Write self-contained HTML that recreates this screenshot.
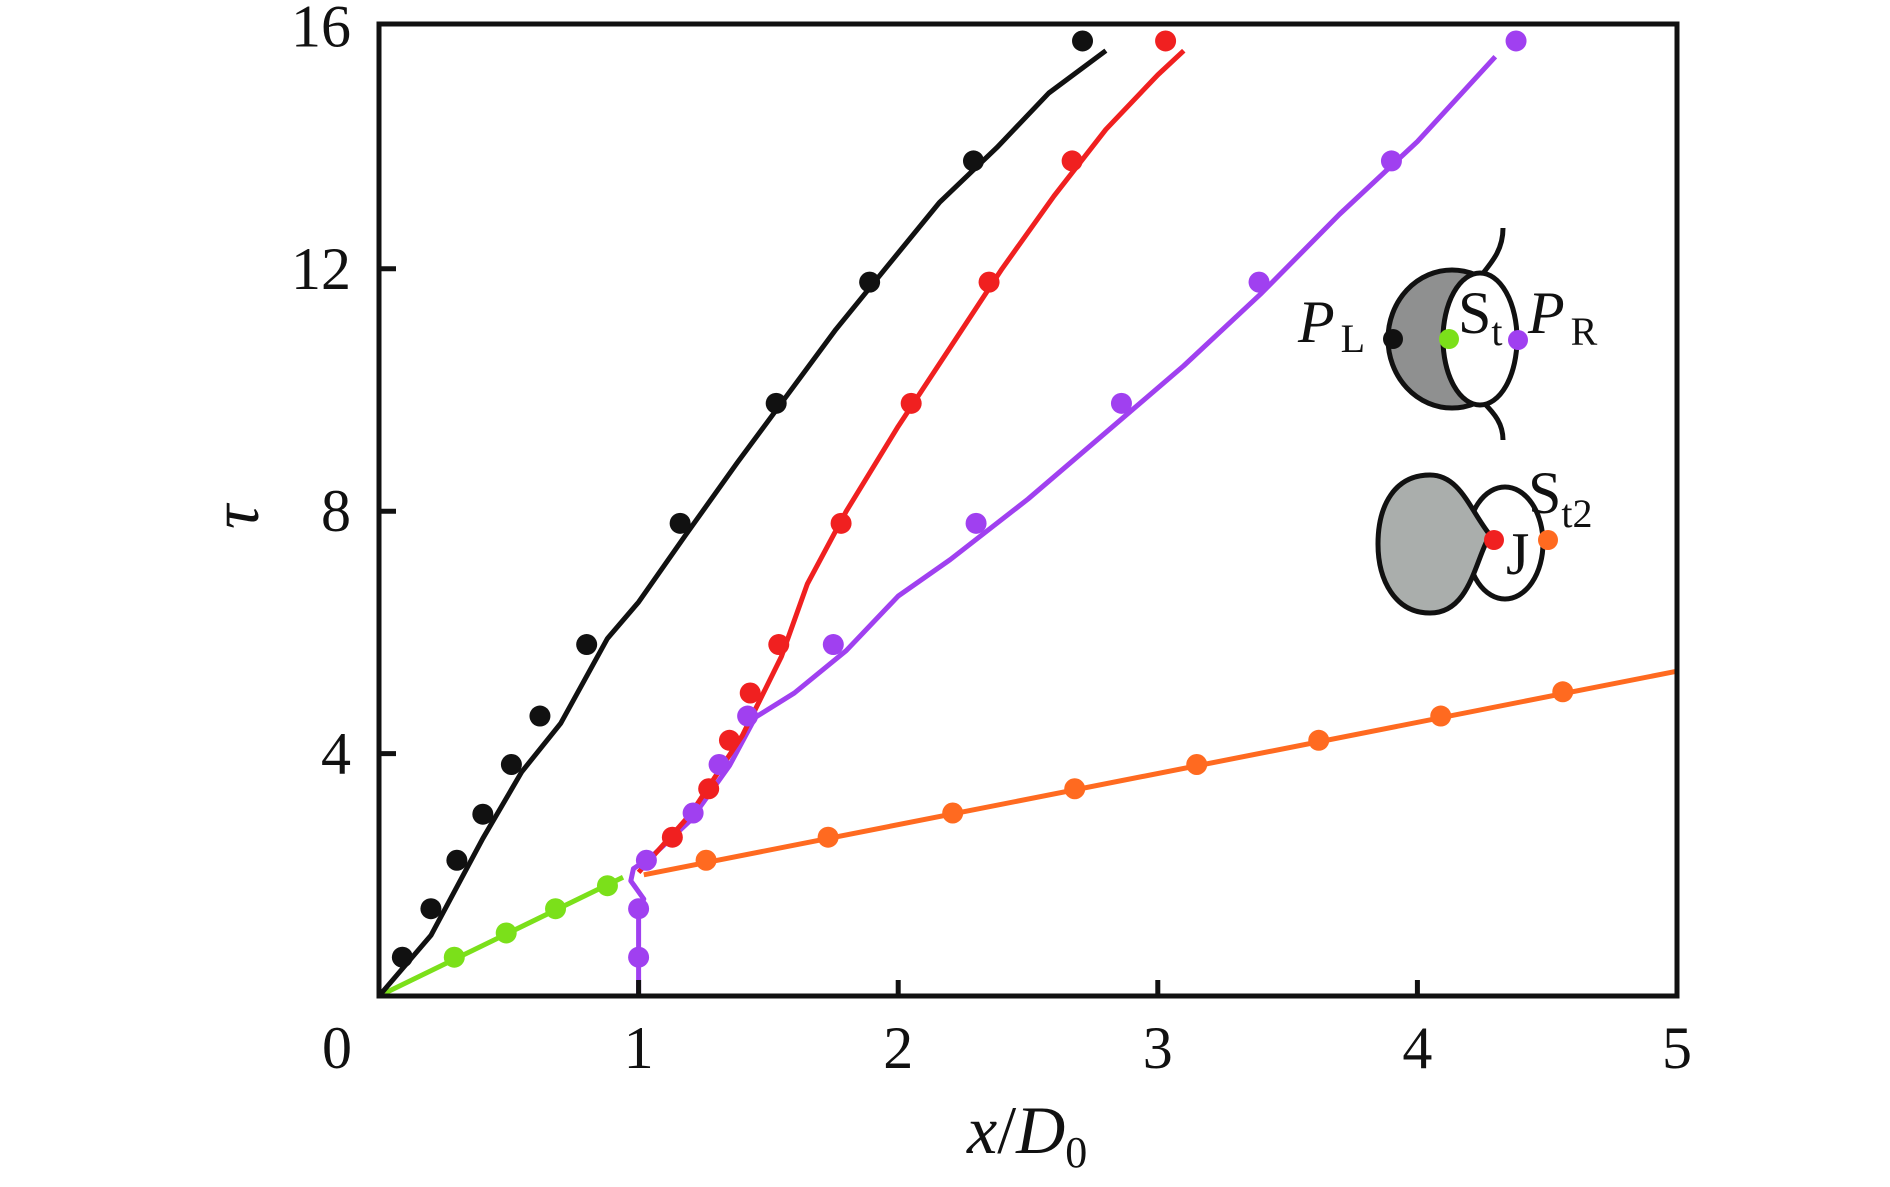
<!DOCTYPE html>
<html><head><meta charset="utf-8"><style>
html,body{margin:0;padding:0;background:#fff}
svg{display:block}
text{font-family:"Liberation Serif",serif;fill:#111}
</style></head><body>
<svg id="chart" width="1890" height="1187" viewBox="0 0 1890 1187" xmlns="http://www.w3.org/2000/svg">
<g id="marks"></g>
<rect x="379" y="24" width="1298" height="972" fill="none" stroke="#111" stroke-width="5"/>
<g id="ticks"></g>
<g id="labels" font-size="60"></g>
<text x="967" y="1153" font-size="68"><tspan font-style="italic">x</tspan>/<tspan font-style="italic">D</tspan><tspan font-size="44" dy="14">0</tspan></text>
<text x="0" y="0" font-size="68" font-style="italic" transform="translate(258,517) rotate(-90)" text-anchor="middle">τ</text>
<g>
<path d="M1480,277 C1492,262 1503,250 1503,228" fill="none" stroke="#111" stroke-width="5"/>
<path d="M1483,402 C1495,414 1503,424 1503,440" fill="none" stroke="#111" stroke-width="5"/>
<ellipse cx="1452" cy="339" rx="64" ry="69" fill="#8f9090" stroke="#111" stroke-width="5"/>
<ellipse cx="1480" cy="339" rx="37" ry="66" fill="#fff" stroke="#111" stroke-width="5"/>
<circle cx="1393" cy="339" r="10" fill="#111"/>
<circle cx="1449" cy="339" r="10" fill="#7be01a"/>
<circle cx="1518" cy="340" r="10" fill="#a040f0"/>
<text x="1298" y="342" font-size="60"><tspan font-style="italic">P</tspan><tspan font-size="40" dx="6" dy="10">L</tspan></text>
<text x="1458" y="333" font-size="60">S<tspan font-size="40" dy="12">t</tspan></text>
<text x="1528" y="333" font-size="60"><tspan font-style="italic">P</tspan><tspan font-size="40" dx="6" dy="12">R</tspan></text>
</g>
<g>
<ellipse cx="1505" cy="543" rx="38" ry="56" fill="#fff" stroke="#111" stroke-width="5"/>
<path d="M1430,475 C1460,475 1470,510 1490,535 C1475,560 1470,613 1430,613 C1395,613 1378,580 1378,544 C1378,505 1395,475 1430,475 Z" fill="#aaaeac" stroke="#111" stroke-width="5"/>
<circle cx="1494" cy="540" r="10" fill="#f02020"/>
<circle cx="1548" cy="540" r="10" fill="#ff6a20"/>
<text x="1528" y="513" font-size="60">S<tspan font-size="40" dy="14">t2</tspan></text>
<text x="1506" y="574" font-size="60">J</text>
</g>
</svg>
<script>
const xTicks=[0,1,2,3,4,5];
const yTicks=[4,8,12,16];
const blackDotsX=[0.09,0.2,0.3,0.4,0.51,0.62,0.8,1.16,1.53,1.89,2.29,2.71];
const blackDotsY=[0.64,1.44,2.24,3.0,3.82,4.62,5.8,7.8,9.78,11.78,13.78,15.76];
const blackLineX=[0,0.2,0.4,0.55,0.7,0.88,1.0,1.18,1.38,1.57,1.76,1.95,2.16,2.38,2.58,2.8];
const blackLineY=[0,1.0,2.6,3.7,4.5,5.9,6.5,7.6,8.8,9.9,11.0,12.0,13.1,14.0,14.9,15.6];
const redDotsX=[1.13,1.27,1.35,1.43,1.54,1.78,2.05,2.35,2.67,3.03];
const redDotsY=[2.62,3.42,4.22,5.0,5.8,7.8,9.78,11.78,13.78,15.76];
const redLineX=[1.0,1.2,1.4,1.55,1.65,1.8,2.0,2.2,2.4,2.6,2.8,3.0,3.1];
const redLineY=[2.04,3.0,4.3,5.6,6.8,8.0,9.4,10.7,12.0,13.2,14.3,15.2,15.6];
const purpleDotsX=[1.0,1.0,1.03,1.21,1.31,1.42,1.75,2.3,2.86,3.39,3.9,4.38];
const purpleDotsY=[0.64,1.44,2.24,3.02,3.82,4.62,5.8,7.8,9.78,11.78,13.78,15.76];
const purpleLineX=[1.0,1.0,1.02,0.97,0.98,1.05,1.2,1.35,1.45,1.6,1.8,2.0,2.2,2.5,2.8,3.1,3.4,3.7,4.0,4.3];
const purpleLineY=[0,1.4,1.6,1.9,2.1,2.3,2.9,3.8,4.6,5.0,5.7,6.6,7.2,8.2,9.3,10.4,11.6,12.9,14.1,15.5];
const greenDotsX=[0.29,0.49,0.68,0.88];
const greenDotsY=[0.64,1.04,1.44,1.82];
const greenLineX=[0,0.94];
const greenLineY=[0,1.96];
const orangeDotsX=[1.26,1.73,2.21,2.68,3.15,3.62,4.09,4.56];
const orangeDotsY=[2.24,2.62,3.02,3.42,3.82,4.22,4.62,5.02];
const orangeLineX=[1.02,5.0];
const orangeLineY=[2.0,5.36];

const NS="http://www.w3.org/2000/svg";
const X0=379,XU=259.6,Y0=996,YU=60.6;
const sx=v=>X0+v*XU, sy=v=>Y0-v*YU;
const marks=document.getElementById('marks');
function line(xs,ys,color,name){
  const p=document.createElementNS(NS,'polyline');
  
  
  p.setAttribute('points',xs.map((x,i)=>sx(x)+','+sy(ys[i])).join(' '));
  p.setAttribute('fill','none');p.setAttribute('stroke',color);
  p.setAttribute('stroke-width','5');p.setAttribute('stroke-linejoin','round');
  marks.appendChild(p);
}
function dots(xs,ys,color,name){
  xs.forEach((x,i)=>{
    const c=document.createElementNS(NS,'circle');
    
    
    c.setAttribute('cx',sx(x));c.setAttribute('cy',sy(ys[i]));c.setAttribute('r',10.5);
    c.setAttribute('fill',color);marks.appendChild(c);
  });
}
line(greenLineX,greenLineY,'#7be01a','st-line');
line(orangeLineX,orangeLineY,'#ff6a20','st2-line');
line(blackLineX,blackLineY,'#111','pl-line');
line(purpleLineX,purpleLineY,'#a040f0','pr-line');
line(redLineX,redLineY,'#f02020','j-line');
dots(greenDotsX,greenDotsY,'#7be01a','st-point');
dots(orangeDotsX,orangeDotsY,'#ff6a20','st2-point');
dots(blackDotsX,blackDotsY,'#111','pl-point');
dots(purpleDotsX,purpleDotsY,'#a040f0','pr-point');
dots(redDotsX,redDotsY,'#f02020','j-point');
const ticks=document.getElementById('ticks'),labels=document.getElementById('labels');
xTicks.forEach(v=>{
  if(v>0&&v<5){const l=document.createElementNS(NS,'line');
  
  
  l.setAttribute('x1',sx(v));l.setAttribute('x2',sx(v));l.setAttribute('y1',Y0);l.setAttribute('y2',Y0-16);
  l.setAttribute('stroke','#111');l.setAttribute('stroke-width','5');ticks.appendChild(l);}
  const t=document.createElementNS(NS,'text');
  
  
  t.setAttribute('x',v===0?337:sx(v));t.setAttribute('y',1068);t.setAttribute('text-anchor','middle');
  t.textContent=v;labels.appendChild(t);
});
yTicks.forEach(v=>{
  if(v<16){const l=document.createElementNS(NS,'line');
  
  
  l.setAttribute('x1',X0);l.setAttribute('x2',X0+17);l.setAttribute('y1',sy(v));l.setAttribute('y2',sy(v));
  l.setAttribute('stroke','#111');l.setAttribute('stroke-width','5');ticks.appendChild(l);}
  const t=document.createElementNS(NS,'text');
  
  
  t.setAttribute('x',351);t.setAttribute('y',sy(v)+20);t.setAttribute('text-anchor','end');
  t.textContent=v;labels.appendChild(t);
});
</script>
</body></html>
